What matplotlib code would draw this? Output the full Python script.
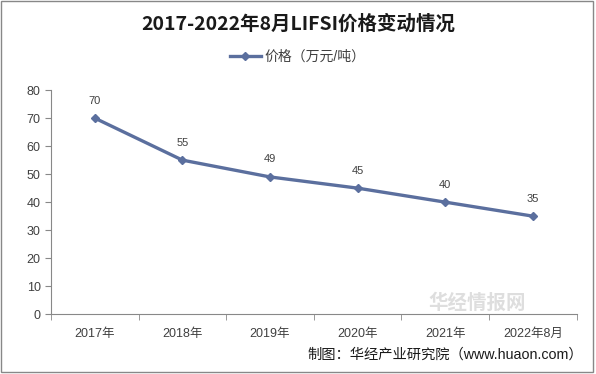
import matplotlib
matplotlib.use("Agg")
import matplotlib.pyplot as plt
from matplotlib.patches import Rectangle

plt.rcParams['font.family'] = ['Liberation Sans', 'Noto Sans CJK SC', 'DejaVu Sans']

# ---- Data ----
years = ["2017年", "2018年", "2019年", "2020年", "2021年", "2022年8月"]
price = [70, 55, 49, 45, 40, 35]

line_color = "#5b6f9e"
text_color = "#404040"

# ---- Plot ----
fig = plt.figure(figsize=(5.96, 3.74), dpi=100)
ax = fig.add_axes([0.0856, 0.160, 0.882, 0.599])

x = list(range(len(years)))
ax.plot(x, price, color=line_color, linewidth=2.4, marker="D", markersize=4.5,
        label="价格（万元/吨）")
for xi, v in zip(x, price):
    ax.annotate(str(v), (xi, v), xytext=(0, 9), textcoords="offset points",
                ha="center", va="bottom", fontsize=8, color=text_color)

ax.set_xlim(-0.5, len(years) - 0.5)
ax.set_ylim(0, 80)
ax.set_yticks(range(0, 81, 10))
ax.set_xticks(x)
ax.set_xticklabels(years)
ax.set_xticks([i - 0.5 for i in range(len(years) + 1)], minor=True)
ax.tick_params(axis="x", which="major", length=0, pad=10, labelsize=9, labelcolor=text_color)
ax.tick_params(axis="x", which="minor", length=4, color="#888888")
ax.tick_params(axis="y", length=4, color="#888888", labelsize=9, labelcolor=text_color)

for side in ["top", "right"]:
    ax.spines[side].set_visible(False)
for side in ["left", "bottom"]:
    ax.spines[side].set_color("#888888")

fig.text(0.5, 0.935, "2017-2022年8月LIFSI价格变动情况", ha="center", va="center",
         fontsize=14, fontweight="bold", color="#1a1a1a",
         family=['Noto Sans CJK SC'])
leg = fig.legend(loc="center", bbox_to_anchor=(0.5, 0.848), frameon=False,
                 fontsize=10, handlelength=2.2, handletextpad=0.3)
for t in leg.get_texts():
    t.set_color(text_color)

# watermark (faint)
fig.text(0.80, 0.19, "华经情报网", ha="center", va="center", fontsize=14,
         fontweight="bold", color="#d0d0d0", alpha=0.7, family=['Noto Sans CJK SC'])

fig.text(0.978, 0.052, "制图：华经产业研究院（www.huaon.com）", ha="right", va="center",
         fontsize=10.3, color="#1a1a1a")

fig.patches.append(Rectangle((0.002, 0.006), 0.993, 0.99, transform=fig.transFigure,
                             fill=False, edgecolor="#888888", linewidth=1))

fig.savefig("out.png", dpi=100)
